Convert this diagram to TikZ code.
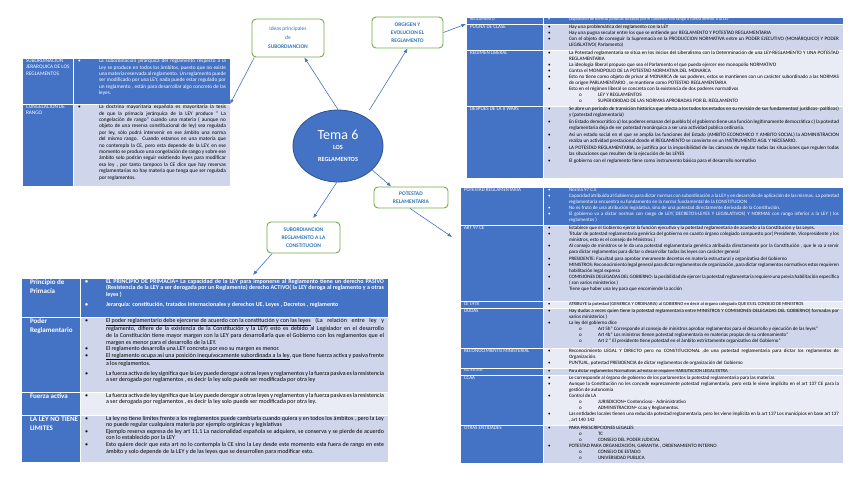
\documentclass[tikz,border=0pt]{standalone}
\usepackage{fontspec}
\setmainfont{Carlito}
\usetikzlibrary{arrows.meta,shapes.geometric,calc}
\definecolor{hdr}{HTML}{4472C4}
\definecolor{band}{HTML}{CFD5EA}
\definecolor{bandlt}{HTML}{E9EBF5}
\definecolor{grn}{HTML}{70AD47}
\definecolor{btxt}{HTML}{2E75B6}
\definecolor{ellb}{HTML}{2F528F}
\newcommand{\bul}{\par\leftskip=26pt\rightskip=4pt\noindent\llap{\makebox[21pt][l]{\textbullet}}\ignorespaces}
\newcommand{\subi}{\par\leftskip=55pt\rightskip=4pt\noindent\llap{\makebox[19pt][l]{o}}\ignorespaces}
\newcommand{\cbox}[3]{\parbox[c][#2pt][t]{#1pt}{\tolerance=9999\emergencystretch=2em\hyphenpenalty=10000\parskip=0pt\vspace*{1pt}#3\par}}
\newcommand{\lbox}[3]{\parbox[c][#2pt][t]{#1pt}{\raggedright\leftskip=4pt\parskip=0pt\vspace*{1pt}#3\par}}
\newcommand{\bbox}[3]{\parbox[c][#2pt][t]{#1pt}{\raggedright\leftskip=9pt\parskip=0pt\vspace*{1.5pt}#3\par}}
\tikzset{
  cell/.style={anchor=north west, inner sep=0pt, outer sep=0pt, draw=white, line width=0.7pt},
  bubble/.style={draw=grn, line width=0.9pt, rounded corners=4pt, fill=white, align=center, text=btxt, inner sep=0pt},
  arr/.style={draw=hdr, line width=0.6pt, -{Latex[length=4.5pt,width=3.6pt]}}
}
\begin{document}
\begin{tikzpicture}[x=1pt,y=-1pt]
\useasboundingbox (0,0) rectangle (848,477);
\fill[white] (0,0) rectangle (848,477);

% ---------- table 1 (top left)
\begin{scope}[font=\fontsize{5.3}{6.4}\selectfont]
\node[cell,fill=hdr,text=white] (t1l1) at (22,58) {\lbox{51}{46}{SUBORDINACION JERARQUICA DE LOS REGLAMENTOS}};
\node[cell,fill=hdr,text=white] (t1c1) at (73,58) {\cbox{157}{46}{\bul La subordinación jerárquica del reglamento respecto a la Ley se produce en todos los ámbitos, puesto que no existe una materia reservada al reglamento. Un reglamento puede ser modificado por una LEY, nada puede estar regulado por un reglamento , están para desarrollar algo concreto de las leyes.}};
\node[cell,fill=hdr,text=white] (t1l2) at (22,104) {\lbox{51}{82}{CONGELACION DE RANGO}};
\node[cell,fill=band] (t1c2) at (73,104) {\cbox{157}{82}{\bul La doctrina mayoritaria española es mayoritaria la tesis de que la primacía jerárquica de la LEY produce " La congelación de rango" cuando una materia ( aunque no objeto de una reserva constitucional de ley) sea regulada por ley, sólo podrá intervenir en ese ámbito una norma del mismo rango. Cuando estamos en una materia que no contempla la CE, pero esta depende de la LEY, en ese momento se produce una congelación de rango y sobre ese ámbito solo podrán seguir existiendo leyes para modificar esa ley , por tanto tampoco la CE dice que hay reservas reglamentarias no hay materia que tenga que ser regulada por reglamentos.}};
\end{scope}

% ---------- table 2 (top right)
\begin{scope}[font=\fontsize{5.1}{6}\selectfont]
\node[cell,fill=hdr,text=white,font=\fontsize{4.3}{5}\selectfont] (t2l1) at (466,17) {\lbox{77}{7}{REGLAMENTO}};
\node[cell,fill=hdr,text=white,font=\fontsize{4.3}{5}\selectfont] (t2c1) at (543,17) {\cbox{300}{7}{\bul Disposición de normas jurídicas dictadas por el Gobierno con rango o fuerza inferior a la LEY}};
\node[cell,fill=hdr,text=white] (t2l2) at (466,24) {\lbox{77}{26}{PUGNA DE CLASE}};
\node[cell,fill=band] (t2c2) at (543,24) {\cbox{300}{26}{\bul Hay una problemática del reglamento con la LEY
\bul Hay una pugna secular entre los que se entiende por REGLAMENTO Y POTESTAD REGLAMENTARIA
\bul Con el objeto de conseguir la Supremacía en la PRODUCCION NORMATIVA entre un PODER EJECUTIVO (MONÁRQUICO) Y PODER LEGISLATIVO( Parlamento)}};
\node[cell,fill=hdr,text=white] (t2l3) at (466,50) {\lbox{77}{56}{REGIMEN LIBERAL}};
\node[cell,fill=bandlt] (t2c3) at (543,50) {\cbox{300}{56}{\bul La Potestad reglamentaria se sitúa en los inicios del Liberalismo con la Determinación de una LEY-REGLAMENTO Y UNA POTESTAD REGLAMENTARIA
\bul La ideología liberal propuso que sea el Parlamento el que pueda ejercer ese monopolio NORMATIVO
\bul Contra el MONOPOLIO DE LA POTESTAD NORMATIVA DEL MONARCA
\bul Esto no tiene como objeto de privar al MONARCA de sus poderes, estos se mantienen con un carácter subordinado a las NORMAS de origen PARLAMENTARIO , se mantiene como POTESTAD REGLAMENTARIA
\bul Esto en el régimen liberal se concreta con la existencia de dos poderes normativos
\subi LEY Y REGLAMENTOS
\subi SUPERIORIDAD DE LAS NORMAS APROBADAS POR EL REGLAMENTO}};
\node[cell,fill=hdr,text=white] (t2l4) at (466,106) {\lbox{77}{72}{DESPUES DE LA II WARS}};
\node[cell,fill=band] (t2c4) at (543,106) {\cbox{300}{72}{\bul Se abre un periodo de transición histórica que afecta a los todos los estados en su revisión de sus fundamentos( jurídicos- políticos) y (potestad reglamentaria)\par\vspace{1pt}
\bul En Estado democrático a) los poderes emanan del pueblo b) el gobierno tiene una función legítimamente democrática c) la potestad reglamentaria deja de ser potestad monárquica a ser una actividad publica ordinaria.\par\vspace{1pt}
\bul Así un estado social en el que se amplía las funciones del Estado (AMBITO ECONOMICO Y AMBITO SOCIAL) la ADMINISTRACION realiza un actividad prestacional donde el REGLAMENTO se convierte en un INSTRUMENTO AGIL Y NECESARIO.\par\vspace{1pt}
\bul LA POTESTAD REGLAMENTARIA, se justifica por la imposibilidad de las cámaras de regular todas las situaciones que regulen todas las situaciones que resulten de la ejecución de las LEYES\par\vspace{1pt}
\bul El gobierno con el reglamento tiene como instrumento básico para el desarrollo normativo}};
\end{scope}

% ---------- table 3 (right)
\begin{scope}[font=\fontsize{5}{6.05}\selectfont]
\node[cell,fill=hdr,text=white] (t3l1) at (460,187) {\lbox{83}{38}{POTESTAD REGLAMENTARIA}};
\node[cell,fill=hdr,text=white] (t3c1) at (543,187) {\cbox{300}{38}{\bul Norma 97 C.E
\bul Capacidad atribuida al Gobierno para dictar normas con subordinación a la LEY y en desarrollo de aplicación de las mismas. La potestad reglamentaria encuentra su fundamento en la norma fundamental de la CONSTITUCION
\bul No es fruto de una atribución legislativa, sino de una potestad directamente derivada de la Constitución.
\bul El gobierno va a dictar normas con rango de LEY( DECRETOS-LEYES Y LEGISLATIVOS) Y NORMAS con rango inferior a la LEY ( los reglamentos )}};
\node[cell,fill=hdr,text=white] (t3l2) at (460,225) {\lbox{83}{76}{ART 97 CE}};
\node[cell,fill=band] (t3c2) at (543,225) {\cbox{300}{76}{\bul Establece que el Gobierno ejerce la función ejecutiva y la potestad reglamentaria de acuerdo a la Constitución y las Leyes.
\bul Titular de potestad reglamentaria genérica del gobierno en cuanto órgano colegiado compuesto por( Presidente, Vicepresidente y los ministros, esto es el consejo de Ministros.)
\bul Al consejo de ministros se le da una potestad reglamentaria genérica atribuida directamente por la Constitución , que le va a servir para dictar reglamentos para dictar o desarrollar todas las leyes con carácter general\par\vspace{1pt}
\bul PRESIDENTE: Facultad para aprobar meramente decretos en materia estructural y organizativa del Gobierno
\bul MINISTROS: Reconocimiento legal general para dictar reglamentos de organización, para dictar reglamentos normativos estos requieren habilitación legal expresa
\bul COMISIONES DELEGADAS DEL GOBIERNO: la posibilidad de ejercer la potestad reglamentaria requiere una previa habilitación específica ( son varios ministerios )
\bul Tiene que haber una ley para que encomiende la acción}};
\node[cell,fill=hdr,text=white,font=\fontsize{4.6}{5}\selectfont] (t3l3) at (460,301) {\lbox{83}{7}{CE 1978}};
\node[cell,fill=bandlt,font=\fontsize{4.6}{5}\selectfont] (t3c3) at (543,301) {\cbox{300}{7}{\bul ATRIBUYE la potestad (GENERICA Y ORDINARIA) al GOBIERNO en decir al órgano colegiado QUE ES EL CONSEJO DE MINISTROS}};
\node[cell,fill=hdr,text=white] (t3l4) at (460,308) {\lbox{83}{40}{DUDAS}};
\node[cell,fill=band] (t3c4) at (543,308) {\cbox{300}{40}{\bul Hay dudas a veces quien tiene la potestad reglamentaria entre MINISTROS Y COMISIONES DELEGADAS DEL GOBIERNO( formadas por varios ministerios )
\bul La ley del gobierno dice
\subi Art 5h" Corresponde al consejo de ministros aprobar reglamentos para el desarrollo y ejecución de las leyes"
\subi Art 4b" Los ministros tienen potestad reglamentaria en materias propias de su ordenamiento"
\subi Art 2 " El presidente tiene potestad en el ámbito estrictamente organizativo del Gobierno"}};
\node[cell,fill=hdr,text=white] (t3l5) at (460,348) {\lbox{83}{20}{RECONOCIMIENTO MINISTERIAL}};
\node[cell,fill=bandlt] (t3c5) at (543,348) {\cbox{300}{20}{\bul Reconocimiento LEGAL Y DIRECTO pero no CONSTITUCIONAL ,de una potestad reglamentaria para dictar los reglamentos de Organización.
\bul PUNTUAL, potestad PRESIDENCIA de dictar reglamentos de organización del Gobierno}};
\node[cell,fill=hdr,text=white,font=\fontsize{4.6}{5}\selectfont] (t3l6) at (460,368) {\lbox{83}{7}{AD EXTRA}};
\node[cell,fill=band,font=\fontsize{4.6}{5}\selectfont] (t3c6) at (543,368) {\cbox{300}{7}{\bul Para dictar reglamentos Normativos ad-extra se requiere HABILITACION LEGAL EXTRA}};
\node[cell,fill=hdr,text=white] (t3l7) at (460,375) {\lbox{83}{50}{CCAA}};
\node[cell,fill=bandlt] (t3c7) at (543,375) {\cbox{300}{50}{\bul Le corresponde al órgano de gobierno de los parlamentos la potestad reglamentaria para las materias
\bul Aunque la Constitución no les concede expresamente potestad reglamentaria, pero esta le viene implícito en el art 137 CE para la gestión de autonomía
\bul Control de LA
\subi JURISDICION= Contencioso - Administrativo
\subi ADMINISTRACION= ccaa y Reglamentos.
\bul Las entidades locales tienen una reducida potestad reglamentaria, pero les viene implícita en la art 137 Los municipios en base art 137 , art 140 142}};
\node[cell,fill=hdr,text=white] (t3l8) at (460,425) {\lbox{83}{38}{OTRAS ENTIDADES}};
\node[cell,fill=band] (t3c8) at (543,425) {\cbox{300}{38}{\bul PARA PRESCRIPCIONES LEGALES
\subi TC
\subi CONSEJO DEL PODER JUDICIAL
\bul POTESTAD PARA ORGANIZACIÓN, GARANTIA , ORDENAMIENTO INTERNO
\subi CONSEJO DE ESTADO
\subi UNIVERSIDAD PUBLICA}};
\end{scope}

% ---------- table 4 (bottom left)
\begin{scope}[font=\fontsize{6}{6.6}\selectfont]
\node[cell,fill=hdr,text=white,font=\fontsize{7}{9}\selectfont\bfseries] (t4l1) at (21,278) {\bbox{59}{39}{Principio de Primacía}};
\node[cell,fill=hdr,text=white] (t4c1) at (80,278) {\cbox{308}{39}{\bfseries\bul EL PRINCIPIO DE PRIMACIA= La capacidad de la LEY para imponerse al Reglamento tiene un derecho PASIVO (Resistencia de la LEY a ser derogada por un Reglamento) derecho ACTIVO( la LEY deroga al reglamento y a otras leyes )\par\vspace{3pt}
\bul Jerarquía: constitución, tratados internacionales y derechos UE, Leyes , Decretos , reglamento}};
\node[cell,fill=hdr,text=white,font=\fontsize{7}{9}\selectfont\bfseries] (t4l2) at (21,317) {\bbox{59}{75}{Poder Reglamentario}};
\node[cell,fill=band] (t4c2) at (80,317) {\cbox{308}{75}{\bul \underline{El poder reglamentario debe ejercerse de acuerdo con la constitución y con las leyes} (La relación entre ley y reglamento, difiere de la existencia de la Constitución y la LEY) esto es debido al Legislador en el desarrollo de la Constitución tiene mayor margen con la LEY para desarrollarla que el Gobierno con los reglamentos que el margen es menor para el desarrollo de la LEY.
\bul El reglamento desarrolla una LEY concreta por eso su margen es menor.
\bul \underline{El reglamento ocupa así una posición inequívocamente subordinada a la ley}, que tiene fuerza activa y pasiva frente a los reglamentos.\par\vspace{3pt}
\bul La fuerza activa de ley significa que la Ley puede derogar a otras leyes y reglamentos y la fuerza pasiva es la resistencia a ser derogada por reglamentos , es decir la ley solo puede ser modificada por otra ley}};
\node[cell,fill=hdr,text=white,font=\fontsize{7}{9}\selectfont\bfseries] (t4l3) at (21,392) {\bbox{59}{23}{Fuerza activa}};
\node[cell,fill=bandlt] (t4c3) at (80,392) {\cbox{308}{23}{\bul La fuerza activa de ley significa que la Ley puede derogar a otras leyes y reglamentos y la fuerza pasiva es la resistencia a ser derogada por reglamentos , es decir la ley solo puede ser modificada por otra ley.}};
\node[cell,fill=hdr,text=white,font=\fontsize{7}{9}\selectfont\bfseries] (t4l4) at (21,415) {\bbox{59}{47}{LA LEY NO TIENE LIMITES}};
\node[cell,fill=band] (t4c4) at (80,415) {\cbox{308}{47}{\bul La ley no tiene límites frente a los reglamentos puede cambiarla cuando quiera y en todos los ámbitos , pero la Ley no puede regular cualquiera materia por ejemplo orgánicas y legislativas
\bul Ejemplo reserva expresa de ley art 11.1 La nacionalidad española se adquiere, se conserva y se pierde de acuerdo con lo establecido por la LEY
\bul Esto quiere decir que esta art no lo contempla la CE sino la Ley desde este momento esta fuera de rango en este ámbito y solo depende de la LEY y de las leyes que se desarrollen para modificar esto.}};
\end{scope}

% ---------- central ellipse and bubbles
\node[ellipse, fill=hdr, draw=ellb, line width=0.8pt, minimum width=90pt, minimum height=72pt, inner sep=0pt, align=center, text=white] (tema) at (338,146)
  {\fontsize{14}{15}\selectfont Tema 6\\[-2pt]\fontsize{6.3}{7.5}\selectfont\bfseries LOS\\\fontsize{6.3}{7.5}\selectfont\bfseries REGLAMENTOS};
\node[bubble, minimum width=72pt, minimum height=38pt, font=\fontsize{5.5}{9}\selectfont] (ideas) at (288,38) {Ideas principales\\de\\\bfseries SUBORDIANCION};
\node[bubble, minimum width=71pt, minimum height=31pt, font=\fontsize{5.5}{8}\selectfont\bfseries] (origen) at (407.5,32.5) {ORGIGEN Y\\EVOLUCION EL\\REGLAMENTO};
\node[bubble, minimum width=74pt, minimum height=21pt, font=\fontsize{5.5}{8}\selectfont\bfseries] (potestad) at (411,197.5) {POTESTAD\\RELAMENTARIA};
\node[bubble, minimum width=73pt, minimum height=31pt, font=\fontsize{5.5}{8}\selectfont\bfseries] (subord) at (303.5,237.5) {SUBORDIANCION\\REGLAMENTO A LA\\CONSTITUCION};

% ---------- connectors
\coordinate (ftip) at (452,237);
\coordinate (htip) at (253,275);
\draw[arr] (tema.north) -- (ideas.-50);
\draw[arr] (ideas.-150) -- (t1c1.south east);
\draw[arr, shorten <=8pt] (tema.47) -- (origen.south);
\draw[arr] (origen.east) -- (t2l2.north west);
\draw[arr] (tema.-35) -- (potestad.151);
\draw[arr] (potestad.-95) -- (ftip);
\draw[arr, shorten >=4pt] (tema.-92) -- (subord.65);
\draw[arr] (subord.-153) -- (htip);
\end{tikzpicture}
\end{document}
